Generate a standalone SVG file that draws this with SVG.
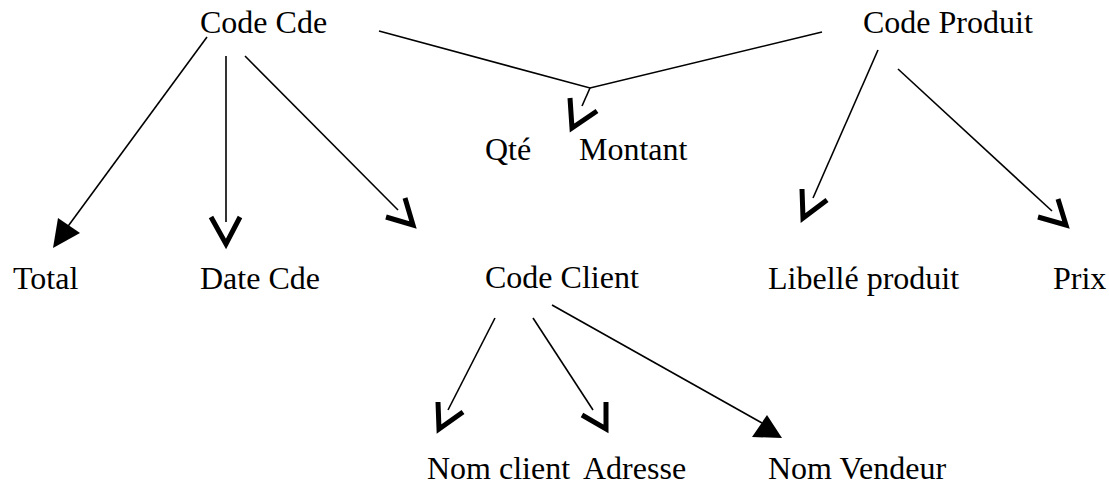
<svg xmlns="http://www.w3.org/2000/svg" width="1109" height="486" viewBox="0 0 1109 486">
  <style>
    text { font-family: "Liberation Serif", "Times New Roman", serif; font-size: 32px; fill: #000; }
    .ln { stroke: #000; stroke-width: 1.6; fill: none; }
    .vee { stroke: #000; stroke-width: 5; fill: none; stroke-linejoin: miter; stroke-linecap: butt; }
    .tri { fill: #000; stroke: none; }
  </style>
  <rect width="1109" height="486" fill="#fff"/>

  <g id="connectors">
    <!-- Code Cde -> Total -->
    <line class="ln" x1="207" y1="37" x2="66" y2="229"/>
    <polygon class="tri" points="53,248 80,233 58,218"/>
    <!-- Code Cde -> Date Cde -->
    <line class="ln" x1="226" y1="56" x2="226" y2="222"/>
    <polyline class="vee" points="211,217 226,244 240,217"/>
    <!-- Code Cde -> Code Client -->
    <line class="ln" x1="245" y1="56" x2="398" y2="210"/>
    <polyline class="vee" points="386,217 413,225 405,198"/>
    <!-- Code Cde + Code Produit -> Qté / Montant -->
    <polyline class="ln" points="379,31 590,88 822,32"/>
    <line class="ln" x1="590" y1="88" x2="582" y2="106"/>
    <polyline class="vee" points="570,98 572,128 597,111"/>
    <!-- Code Produit -> Libellé produit -->
    <line class="ln" x1="878" y1="50" x2="813" y2="198"/>
    <polyline class="vee" points="802,189 803,218 827,200"/>
    <!-- Code Produit -> Prix -->
    <line class="ln" x1="898" y1="69" x2="1052" y2="211"/>
    <polyline class="vee" points="1038,217 1066,225 1058,199"/>
    <!-- Code Client -> Nom client -->
    <line class="ln" x1="495" y1="318" x2="448" y2="410"/>
    <polyline class="vee" points="438,402 439,429 463,412"/>
    <!-- Code Client -> Adresse -->
    <line class="ln" x1="533" y1="318" x2="593" y2="410"/>
    <polyline class="vee" points="582,415 606,429 606,402"/>
    <!-- Code Client -> Nom Vendeur -->
    <line class="ln" x1="552" y1="305" x2="762" y2="423"/>
    <polygon class="tri" points="782,438 752,437 767,415"/>
  </g>

  <g id="code-cde"><text x="200" y="33">Code Cde</text></g>
  <g id="code-produit"><text x="863" y="33">Code Produit</text></g>
  <g id="qte"><text x="485" y="160">Qté</text></g>
  <g id="montant"><text x="579" y="160">Montant</text></g>
  <g id="total"><text x="13" y="289">Total</text></g>
  <g id="date-cde"><text x="200" y="289">Date Cde</text></g>
  <g id="code-client"><text x="485" y="288">Code Client</text></g>
  <g id="libelle-produit"><text x="768" y="289">Libellé produit</text></g>
  <g id="prix"><text x="1053" y="289">Prix</text></g>
  <g id="nom-client"><text x="427" y="479">Nom client</text></g>
  <g id="adresse"><text x="583" y="479">Adresse</text></g>
  <g id="nom-vendeur"><text x="768" y="479">Nom Vendeur</text></g>
</svg>
